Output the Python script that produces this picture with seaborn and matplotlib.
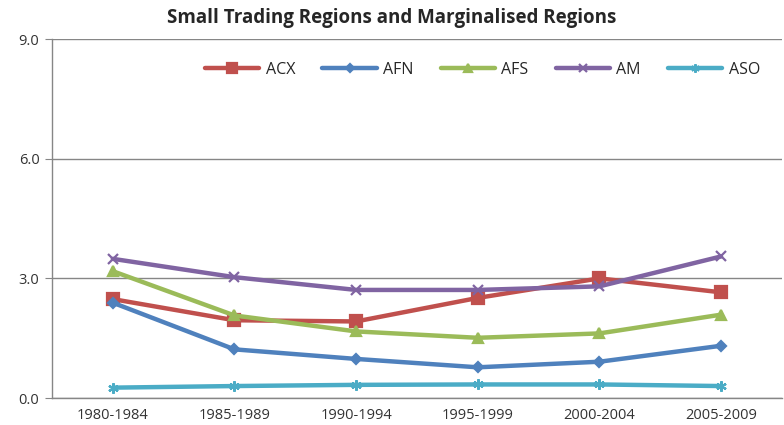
import numpy as np
import pandas as pd
import seaborn as sns
import matplotlib.pyplot as plt

periods = ['1980-1984', '1985-1989', '1990-1994', '1995-1999', '2000-2004', '2005-2009']
acx = [2.48, 1.95, 1.92, 2.51, 3.00, 2.65]
afn = [2.39, 1.22, 0.98, 0.77, 0.91, 1.31]
afs = [3.18, 2.07, 1.67, 1.51, 1.62, 2.09]
am = [3.49, 3.03, 2.71, 2.71, 2.80, 3.55]
aso = [0.26, 0.30, 0.33, 0.34, 0.34, 0.30]

series = ['ACX', 'AFN', 'AFS', 'AM', 'ASO']
colors = ['#C0504D', '#4F81BD', '#9BBB59', '#8064A2', '#4BACC6']
markers = ['s', 'D', '^', 'x', (6, 2, 0)]
sizes = [8.5, 5.5, 7.5, 7.5, 7.5]

df = pd.DataFrame({'period': periods * 5,
                   'x': list(range(6)) * 5,
                   'value': acx + afn + afs + am + aso,
                   'region': np.repeat(series, 6)})

sns.set_style('white')
plt.rcParams['font.family'] = ['Open Sans', 'DejaVu Sans']

fig = plt.figure(figsize=(7.84, 4.25), dpi=100)
ax = fig.add_axes([0.0663, 0.0635, 0.931, 0.8445])

for name, col, mk, ms in zip(series, colors, markers, sizes):
    sub = df[df['region'] == name]
    sns.lineplot(data=sub, x='x', y='value', ax=ax, color=col, marker=mk,
                 markersize=ms, markeredgecolor=col, markeredgewidth=1.6,
                 linewidth=3.2, label=name)

ax.set_xlim(-0.5, 5.5)
ax.set_ylim(0, 9)
ax.set_yticks([0, 3, 6, 9])
ax.set_yticklabels(['0.0', '3.0', '6.0', '9.0'], fontsize=10.5, color='#333333')
ax.set_xticks(range(6))
ax.set_xticklabels(periods, fontsize=10.5, color='#333333')
ax.set_xticks(np.arange(-0.5, 6, 1), minor=True)
ax.tick_params(axis='x', which='major', length=0, pad=7)
ax.tick_params(axis='x', which='minor', length=5, color='#868686', direction='out')
ax.tick_params(axis='y', length=5, color='#868686', direction='out', left=True, pad=4)
ax.set_xlabel('')
ax.set_ylabel('')
ax.grid(axis='y', color='#868686', linewidth=1)
ax.set_axisbelow(True)
for s in ['top', 'right']:
    ax.spines[s].set_visible(False)
for s in ['left', 'bottom']:
    ax.spines[s].set_color('#868686')
    ax.spines[s].set_linewidth(1)

ax.legend(loc='center', bbox_to_anchor=(0.59, 0.915), ncol=5, frameon=False,
          fontsize=11.5, handlelength=3.4, columnspacing=1.7, handletextpad=0.4,
          markerscale=0.8)

fig.suptitle('Small Trading Regions and Marginalised Regions', x=0.5, y=0.98,
             fontsize=13.5, fontweight='bold')

fig.savefig('out.png', dpi=100)
